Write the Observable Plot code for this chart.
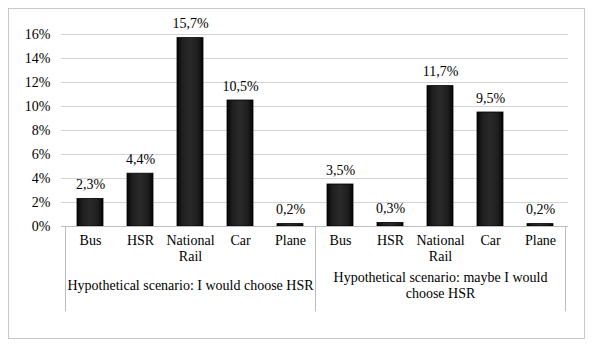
<!DOCTYPE html>
<html><head><meta charset="utf-8">
<script src="https://cdn.jsdelivr.net/npm/d3@7"></script>
<script src="https://cdn.jsdelivr.net/npm/@observablehq/plot@0.6"></script>
<style>
body{margin:0;background:#fff;}
#wrap{position:relative;width:600px;height:354px;}
#border{position:absolute;left:8px;top:8px;width:577px;height:331px;border:1px solid #c8c8c8;box-sizing:border-box;}
#chart{position:absolute;left:0;top:0;}
#chart svg text{font-family:'Liberation Serif',serif !important;}
</style></head>
<body><div id="wrap"><div id="border"></div><div id="chart"></div></div>
<script>
const groups = ["Hypothetical scenario: I would choose HSR", "Hypothetical scenario: maybe I would\nchoose HSR"];
const modes = ["Bus", "HSR", "National\nRail", "Car", "Plane"];
const values1 = [2.3, 4.4, 15.7, 10.5, 0.2];
const values2 = [3.5, 0.3, 11.7, 9.5, 0.2];
const yTicks = [0, 2, 4, 6, 8, 10, 12, 14, 16];

const data = [];
[values1, values2].forEach((vals, g) => vals.forEach((v, i) => data.push({key: g + "|" + modes[i], group: groups[g], mode: modes[i], value: v})));
const keys = data.map(d => d.key);
const groupMid = groups.map((g, i) => ({key: i + "|" + modes[2], label: g}));
const seps = [{key: keys[0], side: -1}, {key: keys[5], side: -1}, {key: keys[9], side: 1}];

const font = "Liberation Serif, serif";
const fs = 14;
const plot = Plot.plot({
  width: 600, height: 354,
  marginLeft: 61, marginRight: 32, marginTop: 34, marginBottom: 128,
  style: "font-family: 'Liberation Serif', serif; font-size: 14px; color: #000; background: transparent;",
  x: {domain: keys, paddingInner: 0.48, paddingOuter: 0.24, axis: null},
  y: {domain: [0, 16], ticks: yTicks, axis: null},
  marks: [
    () => {
      const defs = d3.create("svg:defs");
      const lg = defs.append("linearGradient").attr("id", "barGrad").attr("x1", 0).attr("x2", 1).attr("y1", 0).attr("y2", 0);
      lg.append("stop").attr("offset", "0%").attr("stop-color", "#050505");
      lg.append("stop").attr("offset", "20%").attr("stop-color", "#1e1e1e");
      lg.append("stop").attr("offset", "50%").attr("stop-color", "#2a2a2a");
      lg.append("stop").attr("offset", "80%").attr("stop-color", "#1e1e1e");
      lg.append("stop").attr("offset", "100%").attr("stop-color", "#050505");
      return defs.node();
    },
    Plot.gridY(yTicks, {stroke: "#d4d4d4", strokeOpacity: 1}),
    Plot.axisY(yTicks, {tickSize: 0, tickPadding: 11, tickFormat: d => d + "%", fontSize: fs, label: null, fontFamily: font, fontVariant: "normal"}),
    Plot.barY(data, {x: "key", y: "value", fill: "url(#barGrad)", stroke: "#000", strokeWidth: 0.8}),
    Plot.text(data, {x: "key", y: "value", text: d => d.value.toFixed(1).replace(".", ",") + "%", dy: -10, lineAnchor: "bottom", fontSize: fs, fontFamily: font}),
    Plot.ruleY([0], {stroke: "#bdbdbd"}),
    Plot.axisX(keys, {tickSize: 0, tickPadding: 8, tickFormat: k => k.split("|")[1], fontSize: fs, lineHeight: 1.1, label: null, fontFamily: font}),
    Plot.ruleX(seps, {x: "key", y1: 0, y2: -7.1, stroke: "#bdbdbd", clip: false,
      render(index, scales, values, dims, context, next) {
        const step = scales.x.step();
        const g = next(index, scales, values, dims, context);
        d3.select(g).selectAll("line").each(function(_, j) {
          const i = index[j];
          const x = +this.getAttribute("x1") + seps[i].side * step / 2;
          this.setAttribute("x1", x); this.setAttribute("x2", x);
        });
        return g;
      }}),
    Plot.text(groupMid, {x: "key", y: 0, text: "label", dy: 58, lineAnchor: "middle", fontSize: fs, lineHeight: 1.15, fontFamily: font})
  ]
});
document.getElementById("chart").appendChild(plot);
</script></body></html>
